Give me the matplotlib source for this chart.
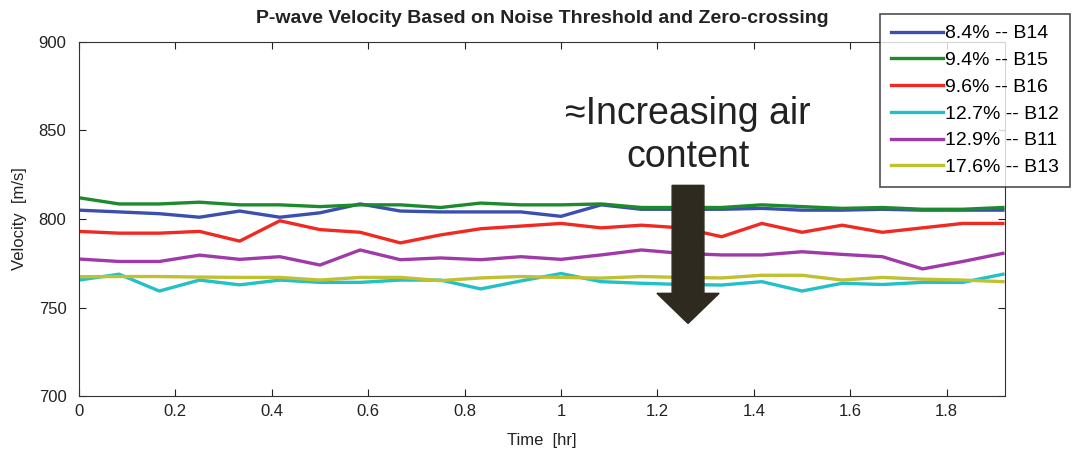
import matplotlib
matplotlib.use("Agg")
from matplotlib import pyplot as plt
from matplotlib.patches import FancyArrow
import numpy as np

# time in hours, one reading every 5 minutes
time_hr = np.arange(24) / 12.0

v_b14 = [805, 804, 803, 801, 804.5, 801, 803.5, 808.5, 804.5, 804, 804, 804, 801.5, 808, 805.5,
         805.5, 805.5, 806, 805, 805, 805.5, 805, 805, 805]
v_b15 = [812, 808.5, 808.5, 809.5, 808, 808, 807, 808, 808, 806.5, 809, 808, 808, 808.5, 806.5,
         806.5, 806.5, 808, 807, 806, 806.5, 805.5, 805.5, 806.5]
v_b16 = [793, 792, 792, 793, 787.5, 799, 794, 792.5, 786.5, 791, 794.5, 796, 797.5, 795, 796.5,
         795, 790, 797.5, 792.5, 796.5, 792.5, 795, 797.5, 797.5]
v_b12 = [765.5, 768.8, 759.3, 765.5, 762.8, 765.5, 764.2, 764.2, 765.5, 765.5, 760.5, 765,
         769.2, 764.6, 763.7, 763, 762.7, 764.6, 759.3, 763.7, 763, 764.2, 764.2, 768.8]
v_b11 = [777.4, 776, 776, 779.6, 777.2, 778.7, 774, 782.5, 777, 778, 777, 778.7, 777.2, 779.7,
         782.5, 780.6, 779.7, 779.7, 781.5, 780, 778.7, 771.8, 776, 780.6]
v_b13 = [767.4, 767.5, 767.5, 767.2, 767, 767, 765.5, 767, 767, 765.2, 766.7, 767.5, 767,
         766.6, 767.5, 767, 766.7, 768.2, 768.2, 765.5, 767, 766, 765.5, 764.6]

series = [v_b14, v_b15, v_b16, v_b12, v_b11, v_b13]
labels = ["8.4% -- B14", "9.4% -- B15", "9.6% -- B16", "12.7% -- B12", "12.9% -- B11",
          "17.6% -- B13"]
colors = ["#3a4fb0", "#1e8a2e", "#f02a22", "#22c0c8", "#a03aa8", "#c0c030"]

plt.rcParams["font.family"] = ["Liberation Sans", "DejaVu Sans"]

fig = plt.figure(figsize=(10.73, 4.53), dpi=100)
ax = fig.add_axes([0.0736, 0.1258, 0.8630, 0.7815])

lines = []
for y, lab, c in zip(series, labels, colors):
    ln, = ax.plot(time_hr, y, color=c, linewidth=2.4, label=lab)
    lines.append(ln)

ax.set_xlim(0, 1.921)
ax.set_ylim(700, 900)
ax.set_xticks(np.arange(0, 1.81, 0.2))
ax.set_xticklabels(["0", "0.2", "0.4", "0.6", "0.8", "1", "1.2", "1.4", "1.6", "1.8"])
ax.set_yticks([700, 750, 800, 850, 900])
ax.tick_params(direction="in", top=True, right=True, labelsize=12, colors="#222222",
               length=5, width=0.8)
ax.tick_params(axis="y", pad=9)
ax.tick_params(axis="x", pad=6)
for s in ax.spines.values():
    s.set_color("#333333")

ax.set_xlabel("Time  [hr]", fontsize=12, color="#222222", labelpad=10)
ax.set_ylabel("Velocity  [m/s]", fontsize=12, color="#222222", labelpad=8)
ax.set_title("P-wave Velocity Based on Noise Threshold and Zero-crossing",
             fontsize=14, fontweight="bold", color="#222222", pad=14,
             family=["Liberation Sans Narrow", "Liberation Sans", "DejaVu Sans"])

# annotation
ax.text(1.2635, 847, "\u2248Increasing air\ncontent", ha="center", va="center",
        fontsize=27, color="#222222", linespacing=1.25)
ax.add_patch(FancyArrow(1.2635, 819, 0, -78, width=0.066, head_width=0.129,
                        head_length=17, length_includes_head=True,
                        color="#2e2a20", zorder=5))

leg = fig.legend(handles=lines, loc="upper left", bbox_to_anchor=(0.8201, 0.969),
                 frameon=True, fancybox=False, edgecolor="#222222", borderaxespad=0,
                 handlelength=2.7, handletextpad=0.12, labelspacing=0.47,
                 borderpad=0.55, prop={"size": 14})
leg.get_frame().set_linewidth(1.2)

fig.savefig("out.png", dpi=100)
